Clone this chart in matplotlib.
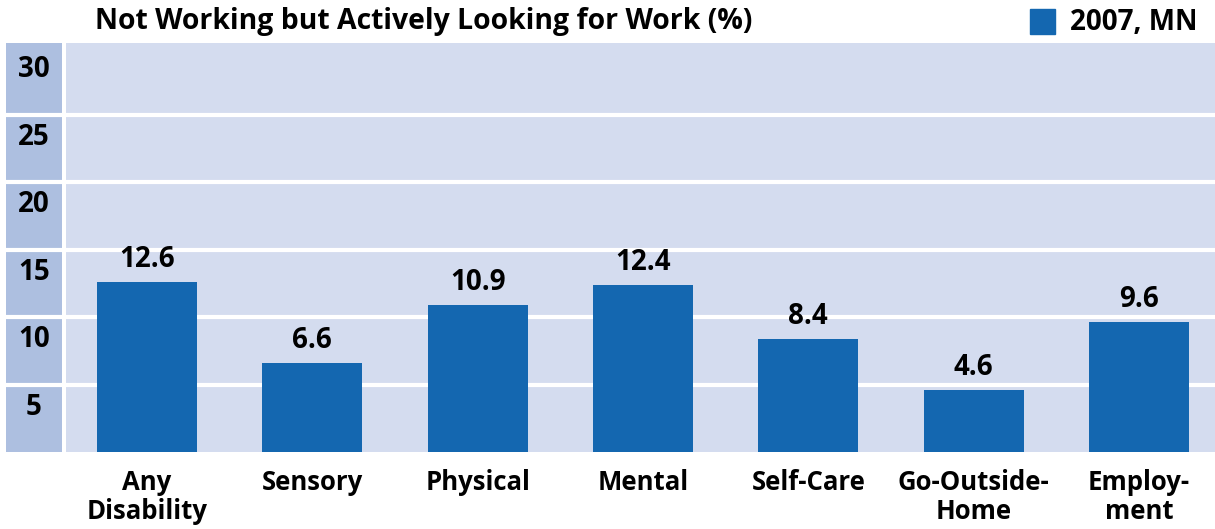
import matplotlib
matplotlib.use("Agg")
from matplotlib import pyplot as plt
from matplotlib.patches import Rectangle

categories = ["Any\nDisability", "Sensory", "Physical", "Mental",
              "Self-Care", "Go-Outside-\nHome", "Employ-\nment"]
values = [12.6, 6.6, 10.9, 12.4, 8.4, 4.6, 9.6]
ticks = [5, 10, 15, 20, 25, 30]
title = "Not Working but Actively Looking for Work (%)"
series_name = "2007, MN"

BAR = "#1467b0"
BG = "#d4dcef"
SIDE = "#adbfe0"
FONT = "Open Sans"

W, H = 1215, 529
fig = plt.figure(figsize=(W / 100, H / 100), dpi=100)

top, bottom = 43, 452
ymax = 30.3

# main plot area
ax = fig.add_axes([66 / W, (H - bottom) / H, (W - 66) / W, (bottom - top) / H])
ax.set_facecolor(BG)
ax.set_ylim(0, ymax)
ax.set_xlim(-0.49, 6.46)
for t in ticks[:-1]:
    ax.axhline(t, color="white", lw=3, zorder=1)
x = range(len(categories))
ax.bar(x, values, width=0.605, color=BAR, zorder=2)
for xi, v in zip(x, values):
    ax.text(xi, v + 0.6, f"{v}", ha="center", va="bottom", fontsize=20,
            fontweight="bold", family=FONT)
ax.set_xticks(list(x))
ax.set_xticklabels(categories, fontsize=18.5, fontweight="bold", family=FONT,
                   linespacing=1.1)
ax.tick_params(axis="x", length=0, pad=12)
ax.set_yticks([])
for s in ax.spines.values():
    s.set_visible(False)

# left column with y labels
side = fig.add_axes([6 / W, (H - bottom) / H, 56 / W, (bottom - top) / H])
side.set_facecolor(SIDE)
side.set_ylim(0, ymax)
side.set_xlim(0, 1)
for t in ticks[:-1]:
    side.axhline(t, color="white", lw=3)
for t in ticks:
    side.text(0.5, t - 1.7, str(t), ha="center", va="center", fontsize=20,
              fontweight="bold", family=FONT)
side.set_xticks([])
side.set_yticks([])
for s in side.spines.values():
    s.set_visible(False)

# title and legend
fig.text(95 / W, 1 - 22 / H, title, ha="left", va="center", fontsize=20.4,
         fontweight="bold", family=FONT)
fig.patches.append(Rectangle((1030 / W, 1 - 34 / H), 25 / W, 25 / H,
                             transform=fig.transFigure, color=BAR))
fig.text(1070 / W, 1 - 22 / H, series_name, ha="left", va="center",
         fontsize=20, fontweight="bold", family=FONT)

fig.savefig("out.png", dpi=100)
